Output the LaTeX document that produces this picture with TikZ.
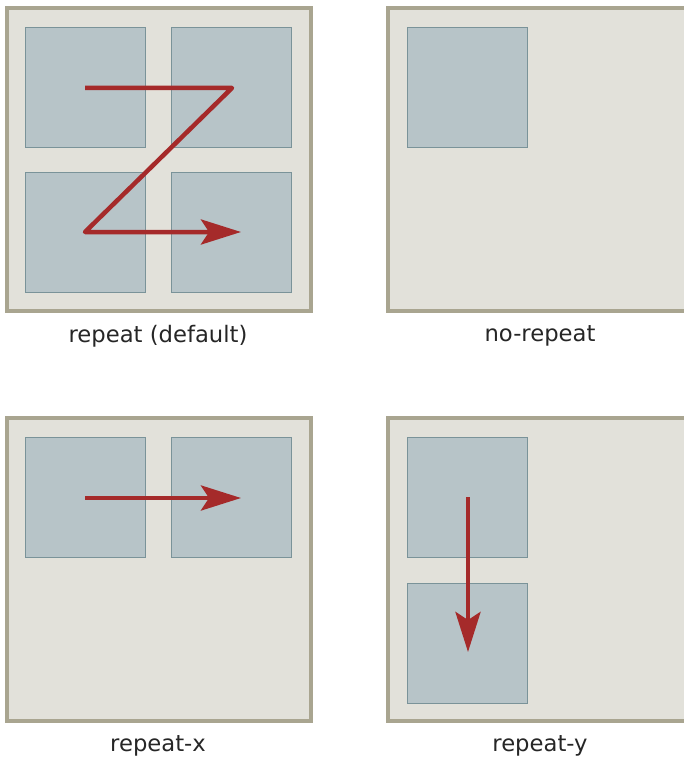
\documentclass[tikz,border=0pt]{standalone}
\usepackage{fontspec}
\setmainfont{DejaVu Sans}
\usetikzlibrary{arrows.meta,positioning}
\definecolor{paneFill}{HTML}{E2E1DA}
\definecolor{paneEdge}{HTML}{A9A590}
\definecolor{tileFill}{HTML}{B7C4C8}
\definecolor{tileEdge}{HTML}{7A9399}
\definecolor{flowRed}{HTML}{A52A2A}
\tikzset{%
  pane/.style={fill=paneFill, draw=paneEdge, line width=4pt},
  tile/.style={rectangle, fill=tileFill, draw=tileEdge, line width=1.2pt,
    minimum width=120pt, minimum height=120pt, inner sep=0pt},
  flow/.style={draw=flowRed, line width=4.5pt, line join=round,
    -{Stealth[length=40pt, width=25pt, inset=8pt]}},
  caption/.style={text=black!85, font=\fontsize{22.7}{27}\selectfont}
}
\begin{document}
\begin{tikzpicture}[x=1pt, y=-1pt]
          \useasboundingbox (0,0) rectangle (684,759);
          \clip (0,0) rectangle (684,759);

          % four panes
          \draw[pane] (7,8) rectangle (311,311);
          \draw[pane] (388,8) rectangle (700,311);
          \draw[pane] (7,418) rectangle (311,721);
          \draw[pane] (388,418) rectangle (700,721);

          % tiles
          \node[tile] (a1) at (85.5,87.5) {};
          \node[tile] (a2) at (231.5,87.5) {};
          \node[tile] (a3) at (85.5,232.5) {};
          \node[tile] (a4) at (231.5,232.5) {};
          \node[tile] (b1) at (467.5,87.5) {};
          \node[tile] (c1) at (85.5,497.5) {};
          \node[tile] (c2) at (231.5,497.5) {};
          \node[tile] (d1) at (467.5,497.5) {};
          \node[tile] (d2) at (467.5,643.5) {};

          % arrows
          \coordinate (z0) at (85,88);
          \coordinate (z1) at (232,88);
          \coordinate (z2) at (85,232);
          \coordinate (z3) at (241,232);
          \draw[flow] (z0) -- (z1) -- (z2) -- (z3);

          \coordinate (x0) at (85,498);
          \coordinate (x1) at (241,498);
          \draw[flow] (x0) -- (x1);

          \coordinate (y0) at (468,497);
          \coordinate (y1) at (468,652);
          \draw[flow] (y0) -- (y1);

          % captions
          \node[caption] (l1) at (158,336) {repeat (default)};
          \node[caption] (l2) at (540,336) {no-repeat};
          \node[caption] (l3) at (158,746) {repeat-x};
          \node[caption] (l4) at (540,746) {repeat-y};
        \end{tikzpicture}
\end{document}
